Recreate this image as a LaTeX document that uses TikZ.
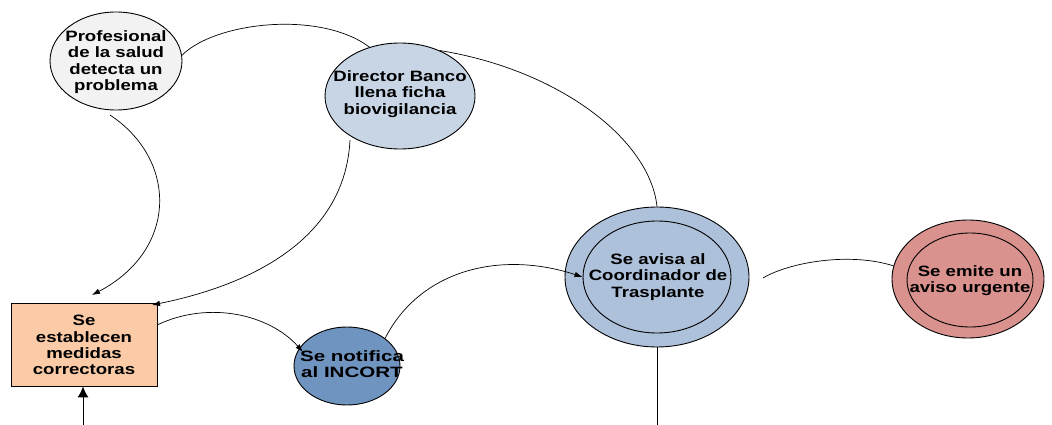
\documentclass[tikz,border=0pt]{standalone}
\usepackage{fontspec}
\newfontfamily\lab{Liberation Sans}[FakeStretch=1.24]
\newfontfamily\labw{Liberation Sans}[FakeStretch=1.37]
\usetikzlibrary{shapes.geometric,arrows.meta}
\definecolor{cprof}{HTML}{F2F2F2}
\definecolor{cdir}{HTML}{C8D5E5}
\definecolor{cbox}{HTML}{FACBA6}
\definecolor{cinc}{HTML}{7094C0}
\definecolor{ccoord}{HTML}{AEC1DA}
\definecolor{cemite}{HTML}{D9928E}
\tikzset{
  oval/.style={ellipse, draw=black, line width=0.9pt, inner sep=0pt},
  txt/.style={font=\lab\bfseries\fontsize{15}{16.3}\selectfont, align=center, inner sep=0pt, text=black},
  txtw/.style={font=\labw\bfseries\fontsize{15}{15.5}\selectfont, align=center, inner sep=0pt, text=black},
  conn/.style={line width=0.7pt},
  arr/.style={conn, -{Latex[length=8pt,width=5.5pt]}},
  bigarr/.style={line width=1pt, -{Latex[length=11pt,width=11pt]}}
}
\begin{document}
\begin{tikzpicture}[x=1pt,y=-1pt]
\useasboundingbox (0,0) rectangle (1052,425);
% shapes
\node[oval, fill=cprof, minimum width=132pt, minimum height=98pt] (prof) at (116,61) {};
\node[oval, fill=cdir, minimum width=150pt, minimum height=106pt] (dir) at (400,96) {};
\node[draw=black, line width=0.9pt, fill=cbox, minimum width=146pt, minimum height=83pt, inner sep=0pt] (box) at (84,344.5) {};
\node[oval, fill=cinc, minimum width=106pt, minimum height=78pt] (inc) at (347,366) {};
\node[oval, fill=ccoord, minimum width=184pt, minimum height=140pt] (coord) at (657,277) {};
\node[oval, minimum width=148pt, minimum height=112pt] (coordin) at (657,277) {};
\node[oval, fill=cemite, minimum width=152pt, minimum height=118pt] (emite) at (968,279) {};
\node[oval, minimum width=126pt, minimum height=94pt] (emitein) at (970,280) {};
% texts
\node[txt] (tprof) at (116,62) {Profesional\\de la salud\\detecta un\\problema};
\node[txt] (tdir) at (400,94) {Director Banco\\llena ficha\\biovigilancia};
\node[txt] (tbox) at (84,345) {Se\\establecen\\medidas\\correctoras};
\node[txtw] (tinc) at (352,364) {Se notifica\\al INCORT};
\node[txt] (tcoord) at (658,277) {Se avisa al\\Coordinador de\\Trasplante};
\node[txt] (temite) at (970,280.5) {Se emite un\\aviso urgente};
% free ends
\coordinate (bot1) at (83,425);
\coordinate (bot2) at (657,425);
\coordinate (c7) at (763,278);
\coordinate (p3) at (110,115);
\coordinate (p4) at (350,140);
\coordinate (a3) at (92,295);
\coordinate (a4) at (152,305);
\coordinate (a5) at (303,352);
% connectors
\draw[conn] (prof.5) .. controls (215,22) and (320,10) .. (dir.122);
\draw[conn] (dir.49) .. controls (560,70) and (650,140) .. (coord.north);
\draw[arr] (p3) .. controls (178,160) and (178,250) .. (a3);
\draw[arr] (p4) .. controls (345,240) and (250,285) .. (a4);
\draw[arr] (box.15) .. controls (210,300) and (270,315) .. (a5);
\draw[arr] (inc.36) .. controls (420,270) and (500,250) .. (coordin.west);
\draw[conn] (c7) .. controls (790,262) and (850,252) .. (emite.170);
\draw[conn] (coord.south) -- (bot2);
\draw[bigarr] (bot1) -- (box.south -| bot1);
\end{tikzpicture}
\end{document}
